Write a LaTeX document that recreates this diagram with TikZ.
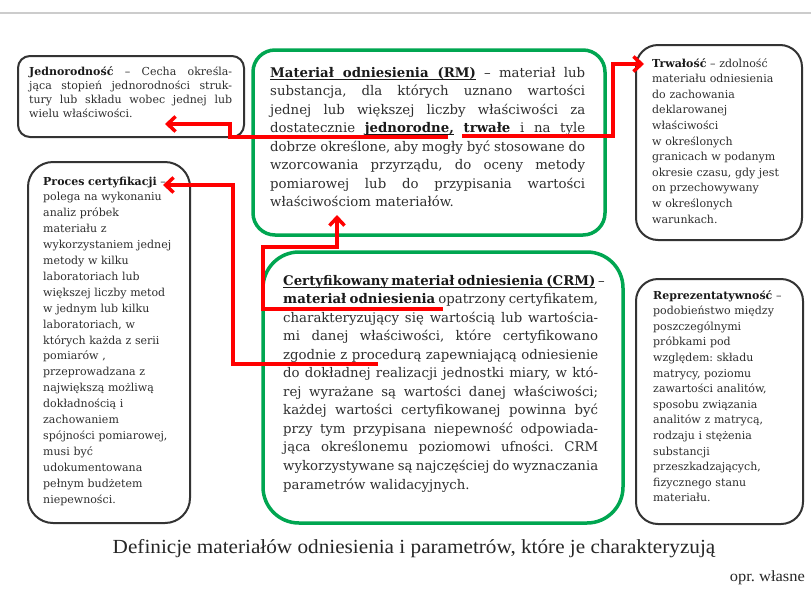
\documentclass[tikz,border=0pt]{standalone}
\usepackage{fontspec}
\setmainfont{DejaVu Serif}
\newfontfamily\capfont{Liberation Serif}
\usetikzlibrary{arrows.meta}
\definecolor{grn}{HTML}{00A651}
\definecolor{txt}{HTML}{2E2E2E}
\definecolor{boldtxt}{HTML}{1A1A1A}
\frenchspacing
\newcommand\JL[1]{\makebox[\linewidth][s]{\spaceskip=0pt\xspaceskip=0pt #1}\\}
\newcommand\BT[1]{{\color{boldtxt}\textbf{#1}}}
\newcommand\ulw[1]{\setbox0\hbox{#1}\rlap{\rule[-2.6pt]{\wd0}{0.8pt}}\box0}
\newcommand\uls{\leaders\hrule height -1.8pt depth 2.6pt\hskip\fontdimen2\font plus\fontdimen3\font minus\fontdimen4\font}
\newcommand\BU[1]{{\color{boldtxt}\bfseries #1}}
\tikzset{
  sbox/.style={draw=black!80, line width=2pt, rounded corners=#1, inner sep=0pt},
  gbox/.style={draw=grn, line width=3.5pt, rounded corners=#1, inner sep=0pt},
  conn/.style={draw=red, line width=3.5pt, -{Straight Barb[length=8pt,width=15pt]}},
  smalltxt/.style 2 args={anchor=base west, inner sep=0pt, text width=#1, align=left, text=txt,
     font=\fontsize{11}{#2}\selectfont},
  bigtxt/.style={anchor=base west, inner sep=0pt, text width=315pt, align=left, text=txt,
     font=\fontsize{13.3}{18.55}\selectfont},
}
\begin{document}
\begin{tikzpicture}[x=1pt,y=-1pt]
\useasboundingbox (0,0) rectangle (811,600);
\fill[white] (0,0) rectangle (811,600);
\draw[black!20, line width=2pt] (0,12.5) -- (811,12.5);

% boxes
\node[sbox=12pt, minimum width=226pt, minimum height=81pt] (bJed) at (131,96.5) {};
\node[gbox=22pt, minimum width=352pt, minimum height=185pt] (bRM) at (429,142.5) {};
\node[sbox=22pt, minimum width=166pt, minimum height=195pt] (bTrw) at (719,142.5) {};
\node[sbox=25pt, minimum width=162pt, minimum height=361pt] (bProc) at (109,342.5) {};
\node[gbox=36pt, minimum width=360pt, minimum height=271pt] (bCRM) at (443,387.5) {};
\node[sbox=22pt, minimum width=167pt, minimum height=245pt] (bRep) at (719.5,401.5) {};

% texts
\node[smalltxt={203pt}{14.3}] (tJed) at (29,75) {%
\JL{\BT{Jednorodność} – Cecha określa-}
\JL{jąca stopień jednorodności struk-}
\JL{tury lub składu wobec jednej lub}
wielu właściwości.};

\node[bigtxt] (tRM) at (270,77) {%
\JL{\BU{\ulw{Materiał}\uls\ulw{odniesienia}\uls\ulw{(RM)}} – materiał lub}
\JL{substancja, dla których uznano wartości}
\JL{jednej lub większej liczby właściwości za}
\JL{dostatecznie \BU{\ulw{jednorodne,}} \BU{\ulw{trwałe}} i na tyle}
\JL{dobrze określone, aby mogły być stosowane do}
\JL{wzorcowania przyrządu, do oceny metody}
\JL{pomiarowej lub do przypisania wartości}
właściwościom materiałów.};

\node[smalltxt={148pt}{15.6}] (tTrw) at (652,67) {%
\BT{Trwałość} – zdolność\\
materiału odniesienia\\
do zachowania\\
deklarowanej\\
właściwości\\
w określonych\\
granicach w podanym\\
okresie czasu, gdy jest\\
on przechowywany\\
w określonych\\
warunkach.};

\node[smalltxt={145pt}{15.9}] (tProc) at (43,185) {%
\BT{Proces certyfikacji} –\\
polega na wykonaniu\\
analiz próbek\\
materiału z\\
wykorzystaniem jednej\\
metody w kilku\\
laboratoriach lub\\
większej liczby metod\\
w jednym lub kilku\\
laboratoriach, w\\
których każda z serii\\
pomiarów ,\\
przeprowadzana z\\
największą możliwą\\
dokładnością i\\
zachowaniem\\
spójności pomiarowej,\\
musi być\\
udokumentowana\\
pełnym budżetem\\
niepewności.};

\node[bigtxt] (tCRM) at (283,285) {%
\JL{\BU{\ulw{Certyfikowany}\uls\ulw{materiał}\uls\ulw{odniesienia}\uls\ulw{(CRM)}} –}
\JL{\BT{materiał odniesienia} opatrzony certyfikatem,}
\JL{charakteryzujący się wartością lub wartościa-}
\JL{mi danej właściwości, które certyfikowano}
\JL{zgodnie z procedurą zapewniającą odniesienie}
\JL{do dokładnej realizacji jednostki miary, w któ-}
\JL{rej wyrażane są wartości danej właściwości;}
\JL{każdej wartości certyfikowanej powinna być}
\JL{przy tym przypisana niepewność odpowiada-}
\JL{jąca określonemu poziomowi ufności. CRM}
\JL{wykorzystywane są najczęściej do wyznaczania}
parametrów walidacyjnych.};

\node[smalltxt={148pt}{15.6}] (tRep) at (653,299) {%
\BT{Reprezentatywność} –\\
podobieństwo między\\
poszczególnymi\\
próbkami pod\\
względem: składu\\
matrycy, poziomu\\
zawartości analitów,\\
sposobu związania\\
analitów z matrycą,\\
rodzaju i stężenia\\
substancji\\
przeszkadzających,\\
fizycznego stanu\\
materiału.};

% caption
\node[anchor=base, inner sep=0pt, text=black!85, font=\capfont\fontsize{20}{22}\selectfont] (cap) at (414,553)
  {\scalebox{1.06}[1]{Definicje materiałów odniesienia i parametrów, które je charakteryzują}};
\node[anchor=base east, inner sep=0pt, text=black!85, font=\capfont\fontsize{15.5}{17}\selectfont] (src) at (805,581)
  {\scalebox{1.06}[1]{opr. własne}};

% connectors
\coordinate (s1) at (448,137);
\coordinate (t1) at (165,124);
\coordinate (s2) at (462,136);
\coordinate (t2) at (644,64);
\coordinate (s3) at (378,364);
\coordinate (t3) at (163,185);
\coordinate (s4) at (443,309);
\coordinate (t4) at (337,215);
\draw[conn] (s1) -- ++(-218,0) |- (t1);
\draw[conn] (s2) -- ++(151,0) |- (t2);
\draw[conn] (s3) -- ++(-145,0) |- (t3);
\draw[conn] (s4) -- ++(-180,0) -- ++(0,-62) -| (t4);
\end{tikzpicture}
\end{document}
